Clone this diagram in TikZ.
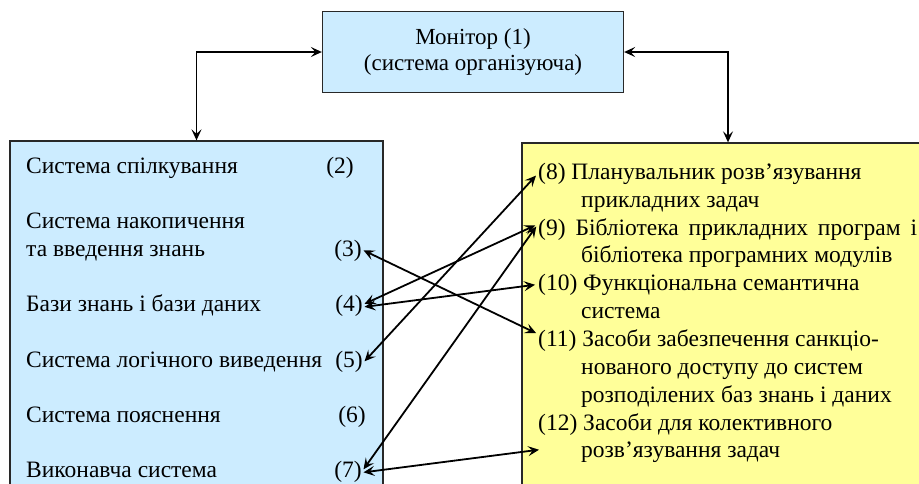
\documentclass[tikz,border=0pt]{standalone}
\usepackage{fontspec}
\setmainfont{Liberation Serif}
\usetikzlibrary{arrows.meta,calc}
\definecolor{lblue}{RGB}{204,236,255}
\definecolor{lyel}{RGB}{255,255,153}
\definecolor{edge}{RGB}{40,40,40}
\tikzset{
  box/.style={draw=edge, line width=1.3pt, inner sep=0pt},
  txt/.style={anchor=base west, inner sep=0pt, font=\fontsize{23.5}{27.8}\selectfont},
  num/.style={anchor=base east, inner sep=1.5pt, font=\fontsize{23.5}{27.8}\selectfont},
  tip/.tip={Stealth[length=11pt,width=10pt,inset=4.5pt]},
  link/.style={tip-tip, line width=1.8pt, black},
}
\begin{document}
\begin{tikzpicture}[x=1pt,y=-1pt]
\useasboundingbox (0,0) rectangle (919,483);
\clip (0,0) rectangle (919,483);
\fill[white] (0,0) rectangle (919,483);

% boxes
\node[box, fill=lblue, minimum width=301pt, minimum height=81pt, align=center,
      font=\fontsize{23}{26}\selectfont] (mon) at (473,52) {Монітор (1)\\(система організуюча)};
\node[box, fill=lblue, minimum width=373pt, minimum height=354pt] (lb) at (196.5,318) {};
\node[box, fill=lyel, minimum width=412pt, minimum height=352pt] (rb) at (728,319) {};

% left items
\node[txt] (l2) at (26,173) {Система спілкування};
\node[num] (n2) at (355.5,173) {(2)};
\node[txt] (l3a) at (26,228) {Система накопичення};
\node[txt] (l3b) at (26,256) {та введення знань};
\node[num] (n3) at (363.5,256) {(3)};
\node[txt] (l4) at (26,311) {Бази знань і бази даних};
\node[num] (n4) at (364.5,311) {(4)};
\node[txt] (l5) at (26,367) {Система логічного виведення};
\node[num] (n5) at (364.5,367) {(5)};
\node[txt] (l6) at (26,422) {Система пояснення};
\node[num] (n6) at (367.5,422) {(6)};
\node[txt] (l7) at (26,477) {Виконавча система};
\node[num] (n7) at (363.5,477) {(7)};

% right items
\node[txt] (r8) at (538,179) {(8) Планувальник розв’язування};
\node[txt] (r8b) at (581,207) {прикладних задач};
\node[txt] (r9) at (538,235) {\makebox[379pt][s]{(9) Бібліотека прикладних програм і}};
\node[txt] (r9b) at (581,262) {бібліотека програмних модулів};
\node[txt] (r10) at (538,290) {(10) Функціональна семантична};
\node[txt] (r10b) at (581,318) {система};
\node[txt] (r11) at (538,346) {(11) Засоби забезпечення санкціо-};
\node[txt] (r11b) at (581,374) {нованого доступу до систем};
\node[txt] (r11c) at (581,402) {розподілених баз знань і даних};
\node[txt] (r12) at (538,430) {(12) Засоби для колективного};
\node[txt] (r12b) at (581,457) {розв’язування задач};
\coordinate (t12) at ([xshift=-42pt,yshift=2pt]r12b.west);

% monitor links
\draw[link] (mon.west) -| (lb.north);
\draw[link] (mon.east) -| (rb.north);

% cross links
\draw[link, shorten >=2pt] (n3.east) -- ([yshift=6pt]r11.west);
\draw[link, shorten >=3pt] ([yshift=1.5pt]n4.east) -- ([yshift=5pt]r9.west);
\draw[link, shorten >=3pt] ([yshift=-1.5pt]n4.east) -- (r10.west);
\draw[link, shorten >=3pt] (n5.east) -- (r8.west);
\draw[link, shorten >=3pt] ([yshift=2pt]n7.east) -- ([yshift=5pt]r9.west);
\draw[link] ([yshift=-1pt]n7.east) -- (t12);
\end{tikzpicture}
\end{document}
